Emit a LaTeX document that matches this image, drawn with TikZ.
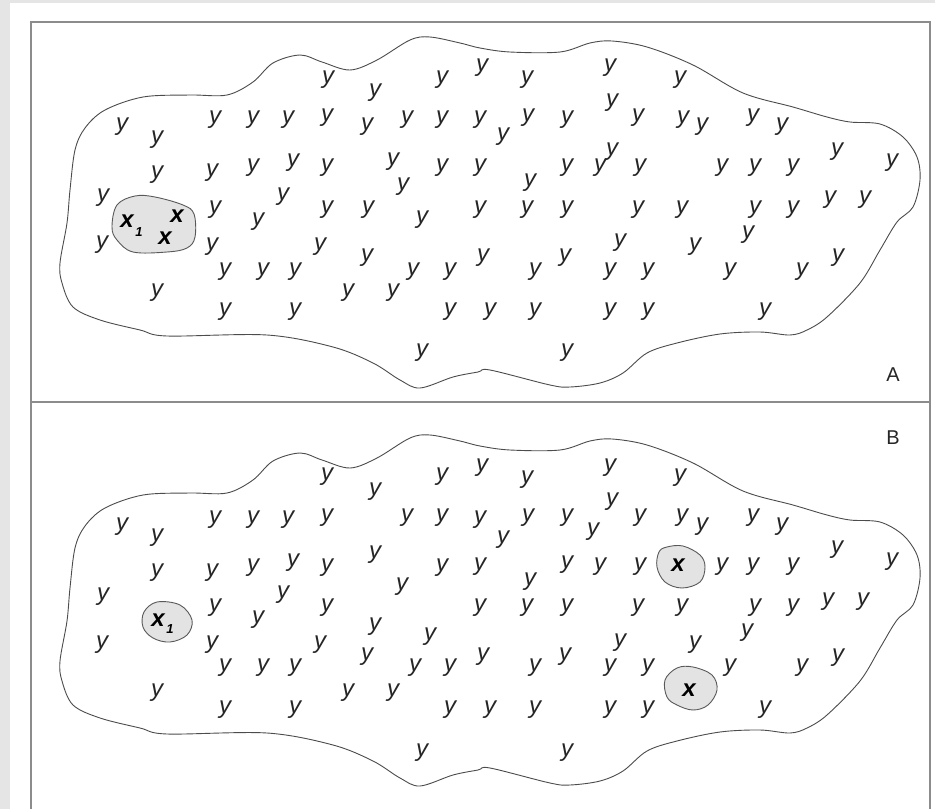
\documentclass[tikz,border=0pt]{standalone}
\usepackage{fontspec}
\setmainfont{Liberation Sans}
\begin{document}
\begin{tikzpicture}[x=1pt,y=-1pt,
  yl/.style={font=\itshape\fontsize{24}{24}\selectfont, text=black!85, inner sep=0pt},
  xl/.style={font=\bfseries\itshape\fontsize{24}{24}\selectfont, text=black, inner sep=0pt},
  subl/.style={font=\bfseries\itshape\fontsize{13}{13}\selectfont, text=black, inner sep=0pt},
  lab/.style={font=\fontsize{20}{20}\selectfont, text=black!85, inner sep=0pt},
  frameline/.style={draw=black!45, line width=1.8pt},
  blobline/.style={draw=black!70, line width=0.9pt},
  xblob/.style={draw=black!65, fill=black!11, line width=0.9pt}]
\fill[black!10] (0,0) rectangle (935,809);
\fill[white] (10,3) rectangle (935,809);
\useasboundingbox (0,0) rectangle (935,809);
\newcommand\bigblob{%
\draw[blobline] plot[smooth cycle, tension=0.55] coordinates {
(70,190) (75,150) (85,128) (105,110) (143,97) (190,95) (227,95) (253,82) (273,63) (300,55) (322,62) (350,70) (377,60) (410,40) (430,37) (460,43) (480,48) (510,52) (560,52) (590,43) (612,41) (647,47) (693,65) (743,93) (793,107) (827,117) (850,122) (880,124) (903,137) (917,157) (920,180) (913,207) (897,222) (880,250) (860,283) (827,317) (807,330) (790,335) (760,332) (720,334) (677,343) (647,353) (623,373) (600,383) (570,387) (550,385) (490,370) (478,372) (453,377) (420,388) (400,380) (373,363) (333,347) (267,335) (167,336) (140,330) (100,320) (73,307) (62,283) (60,263) (67,223)};}
% frames
\draw[frameline] (31,809) -- (31,22) -- (930,22) -- (930,809);
\draw[frameline] (31,402) -- (930,402);
% panel A
\bigblob
\draw[xblob] plot[smooth cycle, tension=0.6] coordinates {(112,227) (117,205) (135,196) (155,197) (183,205) (194,214) (195,237) (187,248) (167,252) (133,252) (117,240)};
\node[xl] (ax1) at (127,221) {x};
\node[subl] (ax1s) at (139,232) {1};
\node[xl] (axa) at (177,216) {x};
\node[xl] (axb) at (165,238) {x};
\foreach \p [count=\i] in {(328,80),(375,93),(442,80),(482,68),(527,80),(610,68),(680,80),
(122,127),(157,140),(215,120),(253,120),(288,120),(327,118),(367,127),(407,120),(442,120),(480,120),(503,137),(528,118),(567,120),(612,103),(638,118),(683,120),(702,127),(753,118),(782,127),
(157,175),(212,173),(253,168),(293,163),(327,168),(393,162),(403,187),(442,168),(480,168),(530,183),(567,168),(600,168),(612,152),(640,168),(722,168),(755,168),(793,168),(837,152),(892,163),
(103,198),(283,197),(215,210),(258,222),(327,210),(368,210),(422,220),(480,210),(527,210),(567,210),(638,210),(682,210),(755,210),(793,210),(830,200),(865,200),
(102,245),(212,247),(320,247),(367,258),(748,235),(620,243),(695,247),(483,258),(535,272),(565,258),(610,272),(648,272),(730,272),(802,272),(838,258),(225,272),(263,272),(295,272),(413,272),(450,272),
(157,293),(348,293),(393,293),(225,312),(295,312),(450,312),(490,312),(535,312),(610,312),(648,312),(765,312),
(422,353),(567,353)}
  \node[yl] (ay\i) at \p {y};
\node[lab] (la) at (893,375) {A};
% panel B
\begin{scope}[yshift=-398pt]
\bigblob
\end{scope}
\draw[xblob] plot[smooth cycle, tension=0.6] coordinates {(143,627) (144,612) (157,602) (180,605) (192,620) (187,635) (170,642) (153,638)};
\draw[xblob] plot[smooth cycle, tension=0.6] coordinates {(657,567) (659,552) (667,547) (683,546) (700,555) (705,567) (700,582) (682,588) (665,582)};
\draw[xblob] plot[smooth cycle, tension=0.6] coordinates {(667,697) (665,680) (677,668) (693,667) (712,675) (717,690) (708,705) (693,710) (677,705)};
\node[xl] (bx1) at (158,620) {x};
\node[subl] (bx1s) at (170,629) {1};
\node[xl] (bxa) at (678,565) {x};
\node[xl] (bxb) at (689,690) {x};
\foreach \p [count=\i] in {(327,477),(375,492),(442,477),(482,468),(527,480),(610,468),(680,478),
(122,527),(157,538),(215,520),(253,520),(288,520),(327,518),(407,518),(442,518),(480,520),(503,540),(528,518),(567,518),(593,532),(612,502),(640,518),(682,518),(702,527),(753,518),(782,527),
(157,573),(212,573),(253,568),(293,563),(327,568),(375,555),(402,587),(442,568),(480,567),(530,582),(567,565),(600,567),(640,567),(722,567),(753,567),(793,567),(837,550),(892,562),
(103,597),(283,595),(215,608),(258,620),(327,608),(375,627),(430,637),(480,608),(527,608),(567,608),(638,608),(682,608),(755,608),(793,608),(828,602),(863,602),
(102,645),(212,645),(320,645),(367,657),(483,657),(535,668),(565,657),(620,643),(610,668),(648,668),(695,645),(747,633),(730,668),(802,668),(838,658),(225,668),(263,668),(295,668),(415,668),(450,668),
(157,693),(348,693),(393,693),(225,710),(295,710),(450,710),(490,710),(535,710),(610,710),(648,710),(765,710),
(422,753),(567,753)}
  \node[yl] (by\i) at \p {y};
\node[lab] (lb) at (893,438) {B};
\end{tikzpicture}
\end{document}
